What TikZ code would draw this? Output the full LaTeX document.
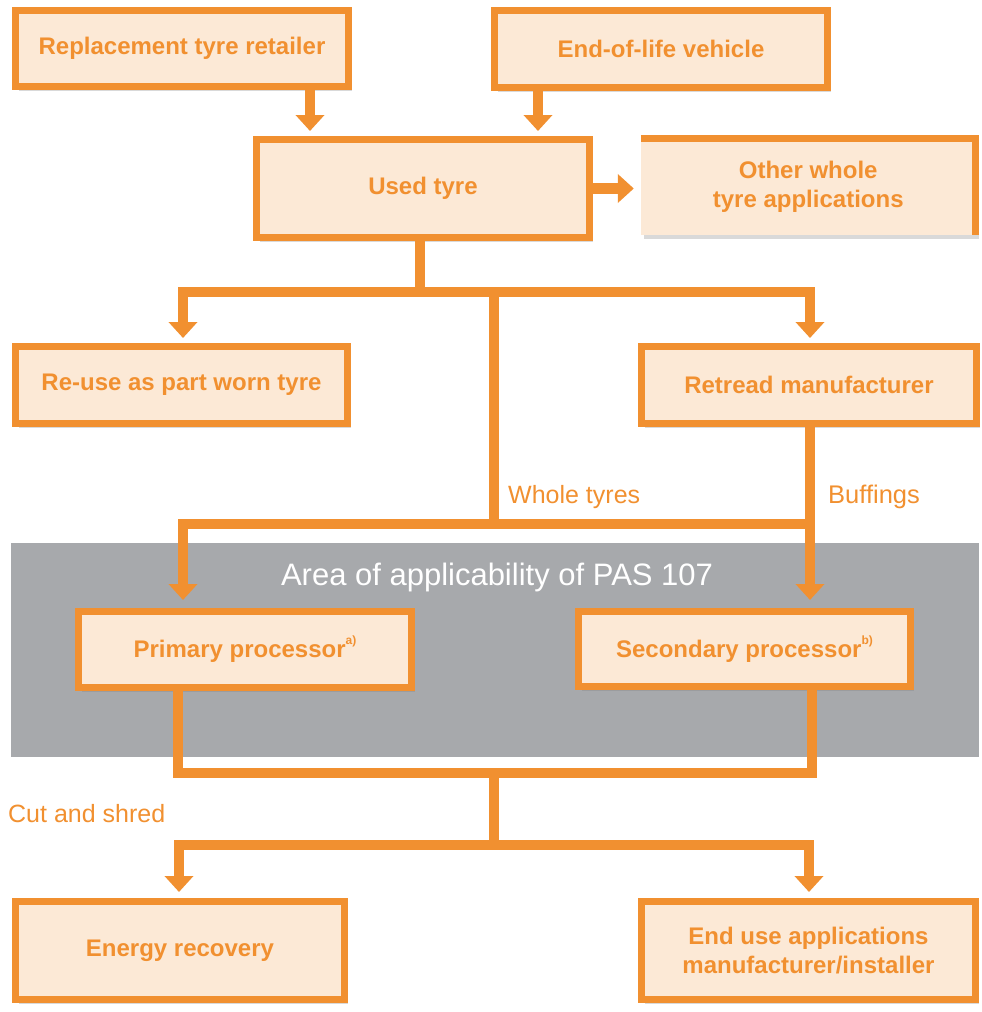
\documentclass[tikz,border=0pt]{standalone}
\usepackage{fontspec}
\setmainfont{Liberation Sans}
\usetikzlibrary{arrows.meta,shadows}
\definecolor{tor}{RGB}{241,144,48}
\definecolor{tfill}{RGB}{252,233,214}
\definecolor{tgrey}{RGB}{167,169,172}
\newcommand{\supmark}[1]{\raisebox{0.55em}{\fontsize{12}{12}\selectfont #1}}
\begin{document}
\begin{tikzpicture}[x=1pt,y=-1pt,
  box/.style={draw=tor, line width=7pt, fill=tfill, text=tor, align=center,
    font=\fontsize{24}{29}\selectfont\bfseries, inner sep=0pt,
    drop shadow={opacity=0.3, shadow xshift=3pt, shadow yshift=-4pt}},
  plainbox/.style={fill=tfill, text=tor, align=center,
    font=\fontsize{24}{29}\selectfont\bfseries, inner sep=0pt,
    drop shadow={opacity=0.3, shadow xshift=3pt, shadow yshift=-4pt}},
  conn/.style={draw=tor, line width=10.5pt, line join=miter},
  arr/.style={-{Triangle[width=28pt,length=16pt]}},
  lbl/.style={text=tor, font=\fontsize{25}{29}\selectfont, inner sep=0pt, anchor=west}
]
\useasboundingbox (0,0) rectangle (982,1012);
\fill[tgrey] (11,543) rectangle (979,757);
\node[text=white, font=\fontsize{31}{35}\selectfont, inner sep=0pt] (area) at (497,577) {Area of applicability of PAS 107};

\node[box, minimum width=333pt, minimum height=76pt] (rtr) at (182,48.5) {Replacement tyre retailer};
\node[box, minimum width=333pt, minimum height=77pt] (eol) at (661,49) {End-of-life vehicle};
\node[box, minimum width=333pt, minimum height=98pt] (used) at (423,188.5) {Used tyre};
\node[plainbox, minimum width=334.5pt, minimum height=96.5pt] (other) at (808.25,186.75) {Other whole\\tyre applications};
\draw[tor, line width=7pt, line join=miter] (other.north west) -- (other.north east) -- (other.south east);
\node[box, minimum width=332pt, minimum height=77pt] (reuse) at (181.5,385) {Re-use as part worn tyre};
\node[box, minimum width=335pt, minimum height=77pt] (retread) at (809,385) {Retread manufacturer};
\node[box, minimum width=333pt, minimum height=76pt] (prim) at (245,649.5) {Primary processor\supmark{a)}};
\node[box, minimum width=332pt, minimum height=75pt] (sec) at (744.5,649) {Secondary processor\supmark{b)}};
\node[box, minimum width=329pt, minimum height=98pt] (energy) at (180,950.5) {Energy recovery};
\node[box, minimum width=334pt, minimum height=98pt] (enduse) at (808.5,950.5) {End use applications\\manufacturer/installer};

\node[lbl] (lwhole) at (508,497) {Whole tyres};
\node[lbl, font=\fontsize{25.5}{29}\selectfont] (lbuff) at (828,497) {Buffings};
\node[lbl] (lcut) at (8,814) {Cut and shred};

\coordinate (cRT) at (310,0);
\coordinate (cEV) at (538,0);
\coordinate (cT1) at (420,0);
\coordinate (cL) at (183,0);
\coordinate (cR) at (810,0);
\coordinate (cM) at (494,0);
\coordinate (cPL) at (178,0);
\coordinate (cSR) at (812,0);
\coordinate (cL4) at (179,0);
\coordinate (cR4) at (809,0);
\coordinate (b1) at (0,292);
\coordinate (b2) at (0,524);
\coordinate (b3) at (0,773);
\coordinate (b4) at (0,845);

\draw[conn,arr,shorten >=5pt] (rtr.south -| cRT) -- (used.north -| cRT);
\draw[conn,arr,shorten >=5pt] (eol.south -| cEV) -- (used.north -| cEV);
\draw[conn,arr,shorten >=7pt] (used.east) -- (used.east -| other.west);

\draw[conn] (used.south -| cT1) -- (b1 -| cT1);
\draw[conn,arr,shorten >=5pt] (b1 -| cT1) -| (reuse.north -| cL);
\draw[conn,arr,shorten >=5pt] (b1 -| cT1) -| (retread.north -| cR);

\draw[conn] (b1 -| cM) -- (b2 -| cM);
\draw[conn,arr,shorten >=8pt] (b2 -| cR) -| (prim.north -| cL);
\draw[conn,arr,shorten >=8pt] (retread.south -| cR) -- (sec.north -| cR);

\draw[conn] (prim.south -| cPL) |- (b3 -| cSR) -- (sec.south -| cSR);
\draw[conn] (b3 -| cM) -- (b4 -| cM);
\draw[conn,arr,shorten >=6pt] (b4 -| cM) -| (energy.north -| cL4);
\draw[conn,arr,shorten >=6pt] (b4 -| cM) -| (enduse.north -| cR4);
\end{tikzpicture}
\end{document}
